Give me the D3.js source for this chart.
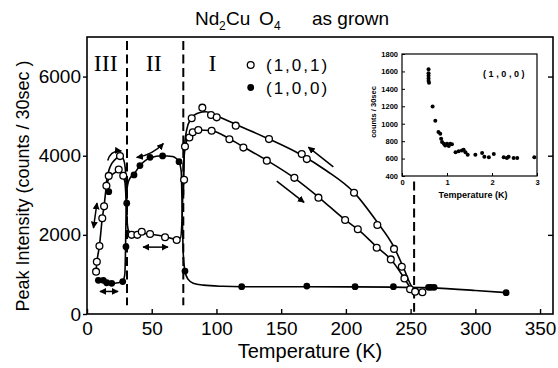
<!DOCTYPE html>
<html>
<head>
<meta charset="utf-8">
<script src="https://cdn.jsdelivr.net/npm/d3@7"></script>
<style>
  body { margin: 0; background: #fff; }
  svg { display: block; }
</style>
</head>
<body>
<svg id="chart" width="558" height="368"></svg>
<script>
// ---- axis ticks ----
const xTicks = [0, 50, 100, 150, 200, 250, 300, 350];
const yTicks = [0, 2000, 4000, 6000];
const insetXTicks = [0, 1, 2, 3];
const insetYTicks = [400, 600, 800, 1000, 1200, 1400, 1600, 1800];

// ---- phase boundaries (K) and region labels ----
const phaseBounds = [30.9, 74.4, 252.7];
const phaseLabels = ["III", "II", "I"];
const phaseLabelT = [14.5, 51.5, 97];

// ---- measured peak intensities: [T (K), counts / 30 s] ----
const open101 = [
  [7.0, 1070], [7.6, 1320], [9.6, 1720], [11.8, 2420], [13.2, 2720],
  [15.0, 3240], [16.8, 3490], [24.5, 3650], [25.5, 3990], [28.0, 3495],
  [34.5, 2000], [38.9, 2000], [42.3, 2080], [48.7, 2020], [60.3, 1940], [69.3, 1870],
  [75.0, 3390], [75.7, 4230], [79.1, 4460], [81.7, 4590], [86.0, 4650], [96.3, 4630],
  [110.0, 4415], [120.8, 4205], [138.9, 3875], [160.2, 3440], [178.8, 2940],
  [199.4, 2375], [209.2, 2140], [223.8, 1675], [234.7, 1380], [245.2, 900],
  [249.6, 625], [253.5, 565], [259.1, 548],
  [80.9, 4945], [89.1, 5215], [95.8, 5030], [100.2, 4970], [114.9, 4760],
  [140.6, 4420], [165.9, 4045], [169.8, 3915], [206.3, 3065], [224.3, 2250],
  [237.2, 1645], [243.2, 1195]
];
const filled100 = [
  [8.8, 850], [12.6, 850], [15.2, 790], [19.1, 775], [27.6, 820],
  [16.8, 3090],
  [30.1, 1700], [30.7, 2800], [36.3, 3515], [40.9, 3750], [48.7, 3960],
  [58.4, 3995], [71.1, 3850], [75.7, 1085],
  [119.5, 690], [169.8, 705], [207.1, 690], [236.7, 690],
  [263.8, 675], [265.8, 675], [268.2, 675], [323.8, 538]
];

// ---- guide curves through the data ----
const curve101Heating = [
  [6.8, 1000], [7.6, 1300], [9.6, 1720], [11.8, 2420], [13.2, 2730], [15, 3230],
  [17.5, 3450], [21, 3560], [24.5, 3620], [27.5, 3500], [29.3, 3330], [30.2, 2900],
  [30.9, 2400], [31.3, 2230], [32.3, 2090], [35, 2035], [42, 2040], [50, 2010],
  [60, 1960], [69, 1890], [72.2, 1920], [73.3, 2300], [74, 3000], [74.6, 3700],
  [75.5, 4150], [77.5, 4420], [80, 4560], [86, 4650], [96, 4635], [110, 4430],
  [121, 4220], [139, 3880], [160, 3440], [179, 2950], [199, 2390], [210, 2120],
  [224, 1690], [235, 1370], [245, 910], [250, 660], [254, 560], [259, 548]
];
const curve101Cooling = [
  [74.5, 3000], [75.3, 4200], [77, 4650], [80, 4920], [86, 5080], [92, 5110],
  [100, 5010], [115, 4790], [140, 4430], [165, 4030], [185, 3620], [206, 3080],
  [224, 2330], [237, 1700], [245, 1130], [250, 740], [254, 560]
];
const curve101III = [
  [14.8, 3300], [16.8, 3620], [19.5, 3820], [22.5, 3930], [25.5, 3990],
  [28, 3920], [29.5, 3700], [30.4, 3100], [31, 2500]
];
const curve100 = [
  [8.8, 850], [12.6, 845], [15.5, 800], [19.1, 775], [24, 790], [27.6, 830],
  [29.2, 1000], [29.8, 1700], [30.3, 2800], [31.3, 3250], [33, 3420], [36, 3525],
  [41, 3755], [49, 3950], [58, 4000], [66, 3980], [71, 3850], [72.8, 3600],
  [73.6, 2500], [74.4, 1500], [75.7, 1080], [78, 880], [82, 780], [90, 730],
  [105, 700], [120, 690], [170, 690], [207, 685], [237, 680], [265, 660],
  [300, 595], [324, 540]
];

// ---- hysteresis arrows: start, end (data units), double-headed, bend (px) ----
const arrows = [
  { from: [190.3, 3720], to: [171.0, 4215], both: false, bend: 0 },
  { from: [146.6, 3360], to: [167.7, 2820], both: false, bend: 0 },
  { from: [38.4, 3955], to: [59.0, 4310], both: true, bend: 5 },
  { from: [43.3, 1690], to: [62.6, 1690], both: true, bend: 0 },
  { from: [5.0, 2175], to: [7.7, 2805], both: true, bend: 0 },
  { from: [10.0, 570], to: [24.0, 570], both: true, bend: 0 },
  { from: [16.0, 3880], to: [26.5, 4120], both: false, bend: -7 }
];

// ---- inset: (1,0,0) counts below 3 K ----
const insetT = [0.59, 0.59, 0.59, 0.59, 0.59, 0.60, 0.68, 0.74, 0.81, 0.85, 0.87, 0.89,
  0.93, 0.96, 1.00, 1.04, 1.07, 1.11, 1.19, 1.26, 1.33, 1.37, 1.41, 1.46, 1.63, 1.78,
  1.83, 1.93, 2.04, 2.26, 2.33, 2.37, 2.48, 2.56, 2.94];
const insetCounts = [1625, 1580, 1550, 1520, 1490, 1470, 1197, 1034, 905, 886, 828, 790,
  770, 750, 770, 745, 770, 765, 672, 684, 692, 700, 672, 645, 645, 664,
  622, 614, 653, 614, 606, 622, 606, 606, 614];

const SANS = "'Liberation Sans', Arial, Helvetica, sans-serif";
const SERIF = "'Liberation Serif', 'Times New Roman', serif";
const plain = d3.format("d");

const svg = d3.select("#chart");
svg.append("rect").attr("width", 558).attr("height", 368).attr("fill", "#fff");

const x = d3.scaleLinear().domain([0, 360]).range([87, 553]);
const y = d3.scaleLinear().domain([0, 7000]).range([314, 37]);

// arrowhead marker
const defs = svg.append("defs");
defs.append("marker")
  .attr("id", "head")
  .attr("viewBox", "0 0 10 10")
  .attr("refX", 9).attr("refY", 5)
  .attr("markerWidth", 7).attr("markerHeight", 7)
  .attr("markerUnits", "userSpaceOnUse")
  .attr("orient", "auto-start-reverse")
  .append("path").attr("d", "M0,0 L10,5 L0,10 Z").attr("fill", "#000");

// title
const title = svg.append("text")
  .attr("y", 25).attr("font-family", SANS).attr("font-size", 19).attr("fill", "#000");
title.append("tspan").attr("x", 195).text("Nd");
title.append("tspan").attr("x", 219).attr("dy", 5).attr("font-size", 12).text("2");
title.append("tspan").attr("x", 226).attr("dy", -5).text("Cu");
title.append("tspan").attr("x", 259).text("O");
title.append("tspan").attr("x", 274).attr("dy", 5).attr("font-size", 12).text("4");
title.append("tspan").attr("x", 312).attr("dy", -5).text("as grown");

// axes
const gx = svg.append("g").attr("transform", "translate(0,314)")
  .call(d3.axisBottom(x).tickValues(xTicks).tickFormat(plain)
    .tickSizeInner(-5).tickSizeOuter(0).tickPadding(8));
const gy = svg.append("g").attr("transform", "translate(87,0)")
  .call(d3.axisLeft(y).tickValues(yTicks).tickFormat(plain)
    .tickSizeInner(4).tickSizeOuter(0).tickPadding(2));
const gr = svg.append("g").attr("transform", "translate(553,0)")
  .call(d3.axisRight(y).tickValues(yTicks.slice(1)).tickSizeInner(-5).tickSizeOuter(0).tickFormat(""));
[gx, gy, gr].forEach(g => {
  g.select(".domain").remove();
  g.selectAll("line").attr("stroke", "#000").attr("stroke-width", 1.4);
  g.selectAll("text").attr("font-family", SANS).attr("font-size", 19).attr("fill", "#000");
});

// plot frame
svg.append("rect")
  .attr("x", x(0)).attr("y", y(7000))
  .attr("width", x(360) - x(0)).attr("height", y(0) - y(7000))
  .attr("fill", "none").attr("stroke", "#000").attr("stroke-width", 1.6);

// axis titles
svg.append("text")
  .attr("x", 310).attr("y", 358).attr("text-anchor", "middle")
  .attr("font-family", SANS).attr("font-size", 20).text("Temperature (K)");
svg.append("text")
  .attr("transform", "translate(29,186) rotate(-90)").attr("text-anchor", "middle")
  .attr("font-family", SANS).attr("font-size", 18).text("Peak Intensity (counts / 30sec )");

// phase boundaries
const dashTop = [6900, 6900, 3350];
const dashBottom = [220, 220, 60];
svg.selectAll(".bound").data(phaseBounds).join("line")
  .attr("x1", d => x(d)).attr("x2", d => x(d))
  .attr("y1", (d, i) => y(dashTop[i])).attr("y2", (d, i) => y(dashBottom[i]))
  .attr("stroke", "#000").attr("stroke-width", 2).attr("stroke-dasharray", "9,4.5");

svg.selectAll(".phase").data(phaseLabels).join("text")
  .attr("x", (d, i) => x(phaseLabelT[i])).attr("y", 70.5)
  .attr("text-anchor", "middle").attr("font-family", SERIF).attr("font-size", 24)
  .text(d => d);

// guide curves
const line = d3.line().x(d => x(d[0])).y(d => y(d[1])).curve(d3.curveMonotoneX);
[curve100, curve101Heating, curve101Cooling, curve101III].forEach(c => {
  svg.append("path").attr("d", line(c))
    .attr("fill", "none").attr("stroke", "#000").attr("stroke-width", 1.6);
});

// arrows
arrows.forEach(a => {
  const x1 = x(a.from[0]), y1 = y(a.from[1]), x2 = x(a.to[0]), y2 = y(a.to[1]);
  const mx = (x1 + x2) / 2, my = (y1 + y2) / 2;
  const len = Math.hypot(x2 - x1, y2 - y1);
  const nx = -(y2 - y1) / len, ny = (x2 - x1) / len;
  const cx = mx + nx * a.bend, cy = my + ny * a.bend;
  const p = svg.append("path")
    .attr("d", `M${x1},${y1} Q${cx},${cy} ${x2},${y2}`)
    .attr("fill", "none").attr("stroke", "#000").attr("stroke-width", 1.5)
    .attr("marker-end", "url(#head)");
  if (a.both) p.attr("marker-start", "url(#head)");
});

// data points
svg.selectAll(".f100").data(filled100).join("circle")
  .attr("cx", d => x(d[0])).attr("cy", d => y(d[1])).attr("r", 3.4).attr("fill", "#000");
svg.selectAll(".o101").data(open101).join("circle")
  .attr("cx", d => x(d[0])).attr("cy", d => y(d[1])).attr("r", 3.4)
  .attr("fill", "#fff").attr("stroke", "#000").attr("stroke-width", 1.3);

// legend
svg.append("circle").attr("cx", 250.7).attr("cy", 65).attr("r", 3.4)
  .attr("fill", "#fff").attr("stroke", "#000").attr("stroke-width", 1.3);
svg.append("circle").attr("cx", 250.7).attr("cy", 87.5).attr("r", 3.4).attr("fill", "#000");
svg.append("text").attr("x", 266).attr("y", 71).attr("font-family", SANS)
  .attr("font-size", 17).attr("letter-spacing", 2).text("(1,0,1)");
svg.append("text").attr("x", 266).attr("y", 93.5).attr("font-family", SANS)
  .attr("font-size", 17).attr("letter-spacing", 2).text("(1,0,0)");

// ---- inset ----
const ix = d3.scaleLinear().domain([0, 3]).range([402, 537]);
const iy = d3.scaleLinear().domain([400, 1800]).range([176, 54]);
const inset = svg.append("g");
inset.append("rect")
  .attr("x", ix(0)).attr("y", iy(1800))
  .attr("width", ix(3) - ix(0)).attr("height", iy(400) - iy(1800))
  .attr("fill", "#fff").attr("stroke", "#000").attr("stroke-width", 1.2);
const igx = inset.append("g").attr("transform", `translate(0,${iy(400)})`)
  .call(d3.axisBottom(ix).tickValues(insetXTicks).tickFormat(plain)
    .tickSizeInner(-3).tickSizeOuter(0).tickPadding(4));
const igy = inset.append("g").attr("transform", `translate(${ix(0)},0)`)
  .call(d3.axisLeft(iy).tickValues(insetYTicks).tickFormat(plain)
    .tickSizeInner(-3).tickSizeOuter(0).tickPadding(4));
[igx, igy].forEach(g => {
  g.select(".domain").remove();
  g.selectAll("line").attr("stroke", "#000").attr("stroke-width", 1);
  g.selectAll("text").attr("font-family", SANS).attr("font-size", 7.5)
    .attr("font-weight", "bold").attr("fill", "#000");
});
inset.append("text").attr("x", 473).attr("y", 198).attr("text-anchor", "middle")
  .attr("font-family", SANS).attr("font-size", 9).attr("font-weight", "bold")
  .text("Temperature (K)");
inset.append("text").attr("transform", "translate(376,112) rotate(-90)")
  .attr("text-anchor", "middle").attr("font-family", SANS).attr("font-size", 7.5)
  .attr("font-weight", "bold").text("counts / 30sec");
inset.append("text").attr("x", 483).attr("y", 77)
  .attr("font-family", SANS).attr("font-size", 9).attr("font-weight", "bold")
  .attr("letter-spacing", 2.6).text("(1,0,0)");
inset.selectAll(".pt").data(insetT).join("circle")
  .attr("cx", d => ix(d)).attr("cy", (d, i) => iy(insetCounts[i]))
  .attr("r", 2).attr("fill", "#000");
</script>
</body>
</html>
